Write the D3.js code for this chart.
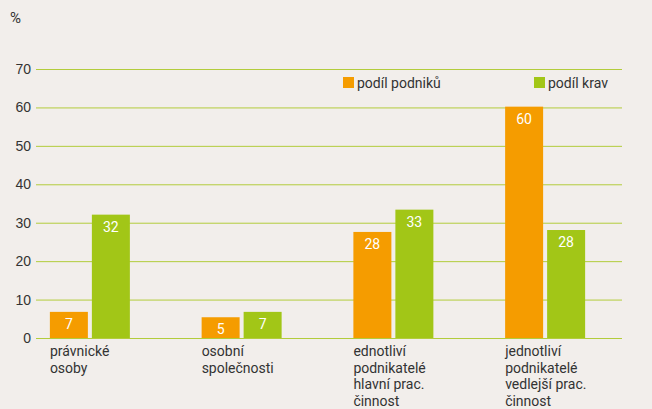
<!DOCTYPE html>
<html>
<head>
<meta charset="utf-8">
<script src="https://cdn.jsdelivr.net/npm/d3@7"></script>
<style>
  body { margin: 0; background: #f2eeeb; }
  svg { display: block; font-family: Roboto, "Open Sans", sans-serif; }
  .tick text { fill: #333; font-size: 14px; }
  .cat { fill: #333; font-size: 14px; }
  .val { fill: #fff; font-size: 14px; }
</style>
</head>
<body>
<div id="chart"></div>
<script>
// share of farms vs share of cows by legal form (%)
const CATEGORIES = [
  ["právnické", "osoby"],
  ["osobní", "společnosti"],
  ["ednotliví", "podnikatelé", "hlavní prac.", "činnost"],
  ["jednotliví", "podnikatelé", "vedlejší prac.", "činnost"]
];
const SHARE_FARMS = [6.8, 5.4, 27.6, 60.2];
const SHARE_COWS  = [32.1, 6.8, 33.4, 28.1];
const SERIES = ["podíl podniků", "podíl krav"];
const COLORS = ["#f59c00", "#a2c617"];
const Y_TICKS = [0, 10, 20, 30, 40, 50, 60, 70];

const W = 652, H = 409;
const svg = d3.select("#chart").append("svg").attr("width", W).attr("height", H);

const y = d3.scaleLinear().domain([0, 70]).range([338, 69]);
const x = d3.scaleBand().domain(d3.range(CATEGORIES.length)).range([14, 621]);
const barW = 38, gap = 4;
const barX = (i, s) => x(i) + x.bandwidth() / 2 - barW - gap / 2 + s * (barW + gap);

// gridlines + tick labels
const axis = svg.append("g").attr("transform", "translate(36,0)")
  .call(d3.axisLeft(y).tickValues(Y_TICKS).tickSize(-586).tickPadding(5));
axis.select(".domain").remove();
axis.selectAll(".tick line").attr("stroke", "#b3cc3c").attr("stroke-width", 1);
svg.append("text").attr("x", 10).attr("y", 23).attr("fill", "#333")
  .attr("font-size", 15).text("%");

// bars
const rows = CATEGORIES.map((c, i) => [SHARE_FARMS[i], SHARE_COWS[i]]);
rows.forEach((vals, i) => {
  vals.forEach((v, s) => {
    svg.append("rect")
      .attr("x", barX(i, s)).attr("width", barW)
      .attr("y", y(v)).attr("height", y(0) - y(v))
      .attr("fill", COLORS[s]);
    svg.append("text").attr("class", "val")
      .attr("x", barX(i, s) + barW / 2).attr("y", y(v) + 17)
      .attr("text-anchor", "middle").text(d3.format(".0f")(v));
  });
});

// category labels (last line kept just inside the bottom edge)
CATEGORIES.forEach((lines, i) => {
  const t = svg.append("text").attr("class", "cat")
    .attr("x", barX(i, 0)).attr("y", 356);
  lines.forEach((l, k) => t.append("tspan").attr("x", barX(i, 0)).attr("dy", k ? 16.5 : 0).text(l));
});

// legend
const legX = [343, 534];
SERIES.forEach((name, s) => {
  const g = svg.append("g").attr("transform", `translate(${legX[s]},77)`);
  g.append("rect").attr("width", 11).attr("height", 11).attr("fill", COLORS[s]);
  g.append("text").attr("x", 14).attr("y", 10.5).attr("fill", "#333")
    .attr("font-size", 14).text(name);
});
</script>
</body>
</html>
